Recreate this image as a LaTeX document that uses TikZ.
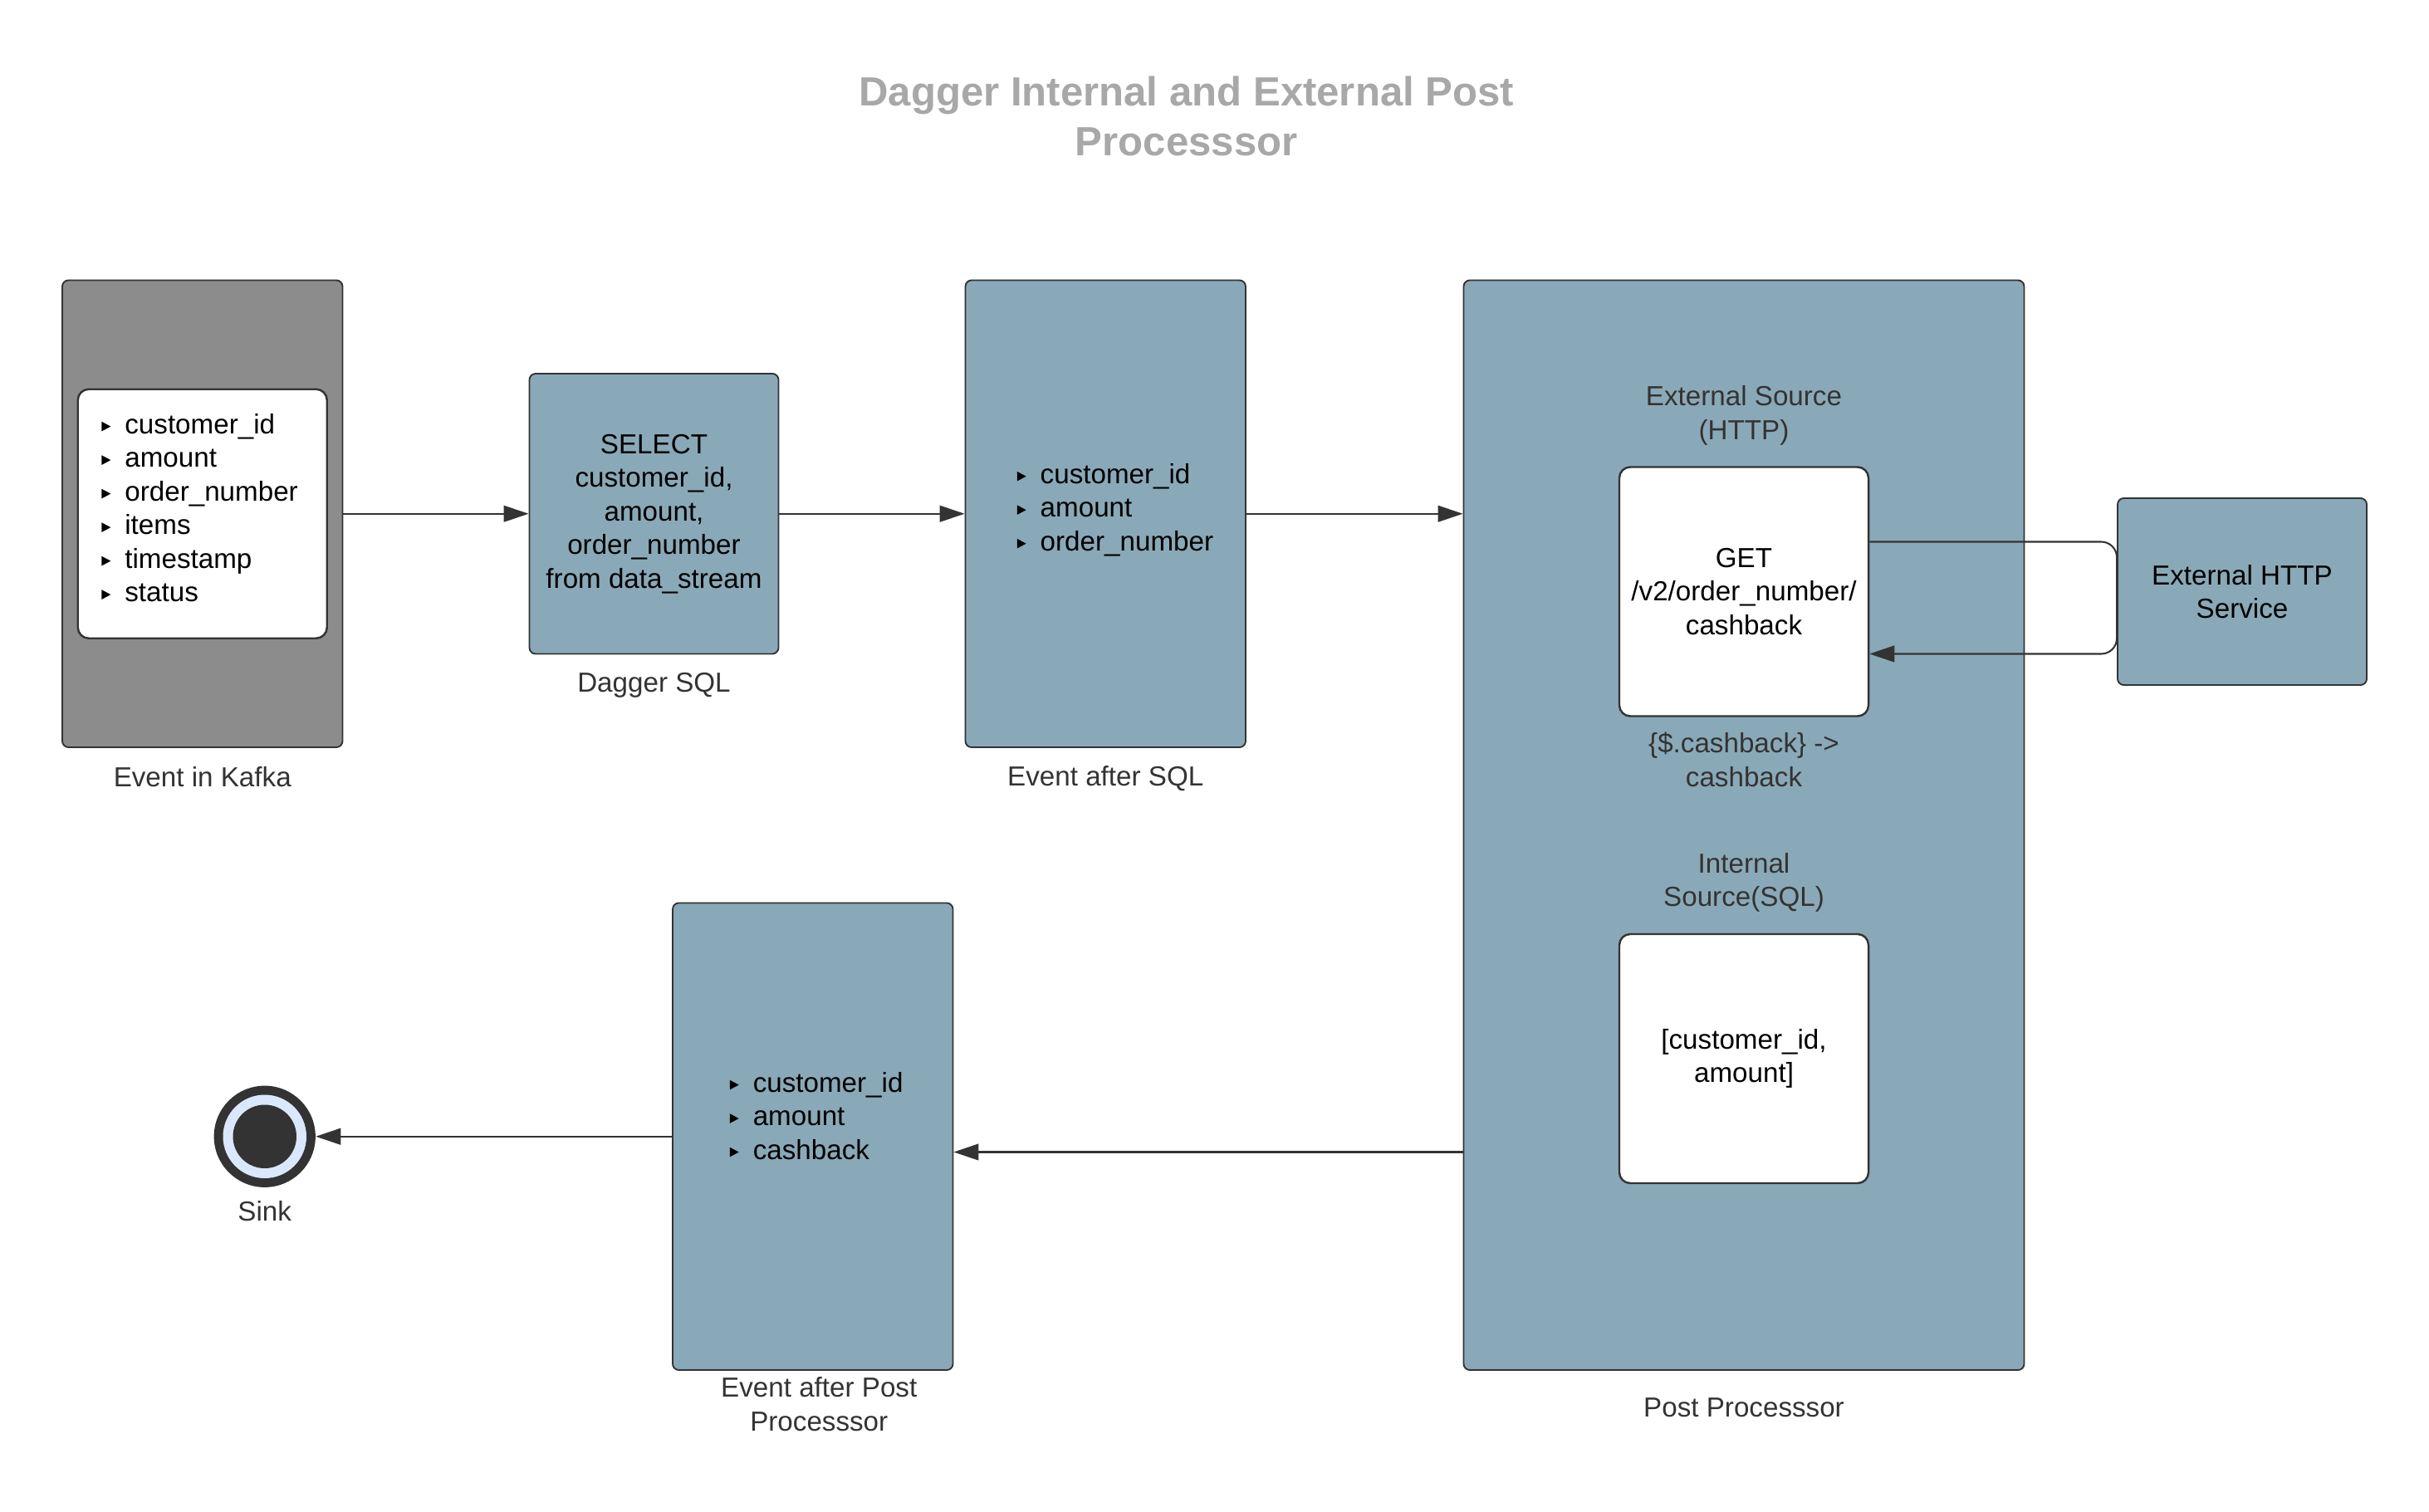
\documentclass[tikz,border=0pt]{standalone}
\usepackage{fontspec}
\setmainfont{Liberation Sans}
\usetikzlibrary{arrows.meta,calc}
\definecolor{boxblue}{HTML}{8AA9B8}
\definecolor{kafkagray}{HTML}{8C8C8C}
\definecolor{linegray}{HTML}{333333}
\definecolor{titlegray}{HTML}{A8A8A8}
\definecolor{sinkblue}{HTML}{D9E8FC}
\newcommand{\fs}{\fontsize{17.7}{21.6}\selectfont}
\newcommand{\bul}{\tikz[baseline=-4.6pt]\fill[black] (0pt,-3.1pt)--(5.8pt,0pt)--(0pt,3.1pt)--cycle;\hspace{9.1pt}}

\begin{document}
\begin{tikzpicture}[x=1pt,y=-1pt,font=\fs,
	bluebox/.style={draw=linegray,line width=1pt,fill=boxblue,rounded corners=4pt,inner sep=0pt,align=center},
	whitebox/.style={draw=linegray,line width=1.3pt,fill=white,rounded corners=7pt,minimum width=160pt,minimum height=160pt,inner sep=0pt,align=center},
	caption/.style={text=linegray,align=center},
	fields/.style={anchor=west,align=left,inner sep=0pt},
	conn/.style={draw=linegray,line width=1.1pt,-{Triangle[length=16pt,width=10.5pt]}}]
	\useasboundingbox (0,0) rectangle (1560,971.2);
	\node[text=titlegray,font=\fontsize{26.2}{32}\selectfont\bfseries,align=center] (title) at (762,74.5) {Dagger Internal and External Post\\Processsor};
	\node[bluebox,fill=kafkagray,minimum width=180pt,minimum height=300pt] (kafka) at (130,330) {};
	\node[whitebox] (kafkaevent) at (130,330) {};
	\node[fields] (kafkafields) at (65.1,326.2) {\bul customer\_id\\\bul amount\\\bul order\_number\\\bul items\\\bul timestamp\\\bul status};
	\node[caption] (kafkalabel) at (130,499) {Event in Kafka};
	\node[bluebox,minimum width=160pt,minimum height=180pt] (sql) at (420,330) {SELECT\\customer\_id,\\amount,\\order\_number\\from data\_stream};
	\node[caption] (sqllabel) at (420,440) {Dagger SQL};
	\node[bluebox,minimum width=180pt,minimum height=300pt] (evsql) at (710,330) {};
	\node[fields] (sqlfields) at (653,327.5) {\bul customer\_id\\\bul amount\\\bul order\_number};
	\node[caption] (evsqllabel) at (710,500) {Event after SQL};
	\node[bluebox,minimum width=360pt,minimum height=700pt] (post) at (1120,530) {};
	\node[caption] (postlabel) at (1120,904) {Post Processsor};
	\node[caption] (extlabel) at (1120,267) {External Source\\(HTTP)};
	\node[whitebox] (get) at (1120,380) {GET\\/v2/order\_number/\\cashback};
	\node[caption] (maplabel) at (1120,488) {\{\$.cashback\} ->\\cashback};
	\node[caption] (intlabel) at (1120,567) {Internal\\Source(SQL)};
	\node[whitebox] (internal) at (1120,680) {[customer\_id,\\amount]};
	\node[bluebox,minimum width=160pt,minimum height=120pt] (http) at (1440,380) {External HTTP\\Service};
	\node[bluebox,minimum width=180pt,minimum height=300pt] (evpost) at (522,730) {};
	\node[fields] (postfields) at (468.5,716.7) {\bul customer\_id\\\bul amount\\\bul cashback};
	\node[caption] (evpostlabel) at (526,902) {Event after Post\\Processsor};
	\node[circle,fill=linegray,minimum size=65.2pt,inner sep=0pt] (sink) at (170,730) {};
	\fill[sinkblue] (sink.center) circle (26.8pt);
	\fill[linegray] (sink.center) circle (20.4pt);
	\node[caption] (sinklabel) at (170,778) {Sink};
	\draw[conn] (kafka) -- (sql);
	\draw[conn] (sql) -- (evsql);
	\draw[conn] (evsql.east) -- (evsql.east -| post.west);
	\coordinate (ppin) at ($(evpost.east)+(0,10)$);
	\draw[conn] (post.west |- ppin) -- (ppin);
	\draw[conn] (evpost) -- (sink);
	\coordinate (req) at ($(http.west)+(0,-32)$);
	\coordinate (resp) at ($(http.west)+(0,40)$);
	\draw[conn,rounded corners=10pt] (get.east |- req) -- (req) -- (resp) -- (get.east |- resp);
\end{tikzpicture}
\end{document}
